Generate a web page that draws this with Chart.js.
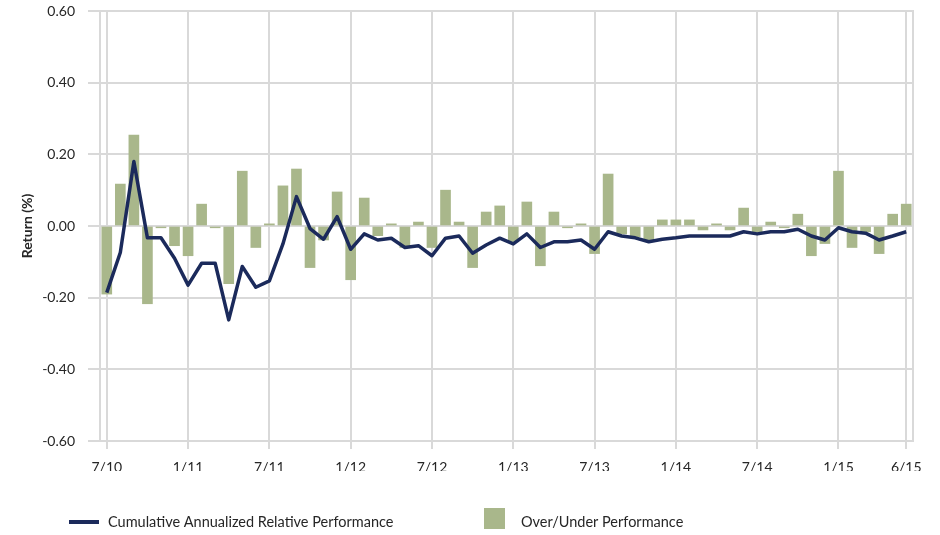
<!DOCTYPE html>
<html>
<head>
<meta charset="utf-8">
<script src="https://cdn.jsdelivr.net/npm/chart.js@4.4.1/dist/chart.umd.min.js"></script>
<style>
  html, body { margin: 0; padding: 0; background: #fff; }
  #wrap { width: 940px; height: 535px; }
</style>
</head>
<body>
<div id="wrap"><canvas id="myChart" width="940" height="535"></canvas></div>
<script>
// monthly categories, Jul 2010 - Jun 2015
const months = [
  '7/10','8/10','9/10','10/10','11/10','12/10',
  '1/11','2/11','3/11','4/11','5/11','6/11','7/11','8/11','9/11','10/11','11/11','12/11',
  '1/12','2/12','3/12','4/12','5/12','6/12','7/12','8/12','9/12','10/12','11/12','12/12',
  '1/13','2/13','3/13','4/13','5/13','6/13','7/13','8/13','9/13','10/13','11/13','12/13',
  '1/14','2/14','3/14','4/14','5/14','6/14','7/14','8/14','9/14','10/14','11/14','12/14',
  '1/15','2/15','3/15','4/15','5/15','6/15'
];

const tickLabels = ['7/10','1/11','7/11','1/12','7/12','1/13','7/13','1/14','7/14','1/15','6/15'];

const cumulative = [
  -0.186, -0.074, 0.180, -0.033, -0.033, -0.090,
  -0.165, -0.104, -0.104, -0.262, -0.113, -0.171, -0.153, -0.050, 0.082, -0.007, -0.037, 0.026,
  -0.065, -0.022, -0.039, -0.034, -0.060, -0.055, -0.083, -0.034, -0.028, -0.076, -0.053, -0.034,
  -0.050, -0.022, -0.060, -0.044, -0.044, -0.039, -0.065, -0.016, -0.028, -0.033, -0.044, -0.037,
  -0.033, -0.028, -0.028, -0.028, -0.028, -0.016, -0.022, -0.016, -0.016, -0.009, -0.028, -0.039,
  -0.005, -0.016, -0.020, -0.039, -0.028, -0.016
];

const overUnder = [
  -0.190, 0.117, 0.254, -0.217, -0.005, -0.055,
  -0.083, 0.061, -0.005, -0.161, 0.153, -0.060, 0.006, 0.112, 0.159, -0.116, -0.039, 0.095,
  -0.150, 0.078, -0.027, 0.006, -0.060, 0.011, -0.060, 0.100, 0.011, -0.116, 0.039, 0.056,
  -0.044, 0.067, -0.111, 0.039, -0.005, 0.006, -0.077, 0.145, -0.022, -0.030, -0.039, 0.017,
  0.017, 0.017, -0.011, 0.006, -0.011, 0.050, -0.016, 0.011, -0.005, 0.033, -0.083, -0.049,
  0.153, -0.060, -0.016, -0.077, 0.033, 0.061
];

const navy = '#1b2a5b';
const green = '#a9b78b';
const gridColor = '#d9d9d9';
const textColor = '#262626';
const font = 'Lato';

// legend drawn by hand so it sits where the original one does
const bottomLegend = {
  id: 'bottomLegend',
  afterDraw(chart) {
    const ctx = chart.ctx;
    const ds = chart.data.datasets;
    const y = 522;
    ctx.save();
    ctx.font = '14.5px ' + font;
    ctx.fillStyle = textColor;
    ctx.textBaseline = 'middle';

    ctx.strokeStyle = ds[0].borderColor;
    ctx.lineWidth = 4;
    ctx.beginPath();
    ctx.moveTo(69, y);
    ctx.lineTo(99, y);
    ctx.stroke();
    ctx.fillText(ds[0].label, 108, y);

    ctx.fillStyle = ds[1].backgroundColor;
    ctx.fillRect(484, y - 14, 21, 21);
    ctx.fillStyle = textColor;
    ctx.fillText(ds[1].label, 521, y);
    ctx.restore();
  }
};

const data = {
  labels: months,
  datasets: [{
    type: 'line',
    label: 'Cumulative Annualized Relative Performance',
    data: cumulative,
    borderColor: navy,
    backgroundColor: navy,
    borderWidth: 3.5,
    pointRadius: 0,
    tension: 0,
    borderJoinStyle: 'round'
  }, {
    type: 'bar',
    label: 'Over/Under Performance',
    data: overUnder,
    backgroundColor: green,
    barThickness: 10
  }]
};

const config = {
  data: data,
  plugins: [bottomLegend],
  options: {
    responsive: false,
    animation: false,
    layout: { padding: { left: 0, right: 27, top: 11, bottom: 64 } },
    plugins: {
      legend: { display: false },
      tooltip: { enabled: false }
    },
    scales: {
      x: {
        type: 'category',
        offset: true,
        grid: {
          offset: false,
          lineWidth: 2,
          tickLength: 8,
          color: (c) => (c.tick && c.tick.label) ? gridColor : 'rgba(0,0,0,0)'
        },
        border: { display: true, color: gridColor, width: 2 },
        ticks: {
          autoSkip: false,
          maxRotation: 0,
          padding: 10,
          color: textColor,
          font: { family: font, size: 14 },
          callback: function (v, i) {
            const lab = this.getLabelForValue(v);
            return tickLabels.includes(lab) ? lab : '';
          }
        },
        afterFit: (s) => { s.height = 30; }
      },
      y: {
        min: -0.6,
        max: 0.6,
        grid: { color: gridColor, lineWidth: 2, tickLength: 12 },
        border: { display: true, color: gridColor, width: 2 },
        ticks: {
          stepSize: 0.2,
          padding: 13,
          color: textColor,
          font: { family: font, size: 14 },
          callback: (v) => (Math.abs(v) < 1e-9 ? 0 : v).toFixed(2)
        },
        title: {
          display: true,
          text: 'Return (%)',
          color: textColor,
          font: { family: font, size: 14, weight: 'bold' },
          padding: { top: 19, bottom: 0 }
        },
        afterFit: (s) => {
          s.width = 100;
          s.paddingTop = 8;
          s.paddingBottom = 8;
        }
      },
      yRight: {
        position: 'right',
        min: -0.6,
        max: 0.6,
        grid: { display: false, drawTicks: false },
        border: { display: true, color: gridColor, width: 2 },
        ticks: { display: false },
        afterFit: (s) => { s.width = 0; }
      }
    }
  }
};

const ctx = document.getElementById('myChart').getContext('2d');
const myChart = new Chart(ctx, config);
</script>
</body>
</html>
